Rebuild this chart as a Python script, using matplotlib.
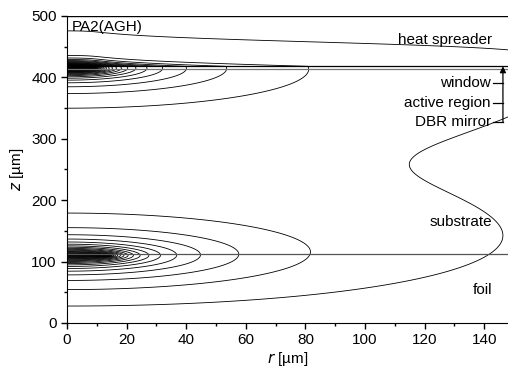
import numpy as np
import matplotlib
matplotlib.use("Agg")
import matplotlib.pyplot as plt

plt.rcParams["font.family"] = ["Liberation Sans", "DejaVu Sans"]
plt.rcParams["font.size"] = 11

# layer boundaries [um]
z_foil_top = 112.0
z_dbr_top = 413.0
z_window_top = 418.0
z_top = 500.0
r_max = 148.0

# heat sources (active region and foil contact) - position, radius, strength
src_z = [415.0, 110.0]
src_a = [9.0, 14.0]
src_s = [1.3, 1.3]
src_q = [1.25, 1.0]
sink_z = -18.0          # effective heat sink plane below the foil
spreader_len = 6.0      # decay length of the source field in the spreader
n_levels = 46

# text labels: (text, r, z)
layer_labels = [
    ("heat spreader", 142.6, 461),
    ("substrate", 142.6, 164),
    ("foil", 142.6, 54),
]
stack_labels = [
    ("window", 391),
    ("active region", 358),
    ("DBR mirror", 327),
]


def disk(r, dz, a):
    rho1 = np.sqrt((r - a) ** 2 + dz ** 2)
    rho2 = np.sqrt((r + a) ** 2 + dz ** 2)
    return 2 / np.pi * np.arcsin(np.clip(2 * a / (rho1 + rho2), 0, 1))


def field(r, z):
    t = np.zeros_like(r)
    for zs, a, s, q in zip(src_z, src_a, src_s, src_q):
        t += q * (disk(r, s * (z - zs), a) - disk(r, s * (z + zs - 2 * sink_z), a))
    return t


r = np.linspace(0, r_max, 600)
z = np.linspace(0, z_top, 2000)
R, Z = np.meshgrid(r, z)
T = field(R, np.minimum(Z, z_window_top))
t_int = field(r, np.full_like(r, z_window_top))
t0 = t_int[-1] * 0.9
above = Z > z_window_top
T[above] = (t0 + (T - t0) * np.exp(-(Z - z_window_top) / spreader_len))[above]

fig = plt.figure(figsize=(5.08, 3.8), dpi=100)
ax = fig.add_axes([0.132, 0.15, 0.868, 0.808])

dT = T[0, 0] * 0 + (field(np.array([143.0]), np.array([170.0]))[0])
levels = dT * np.arange(1, n_levels + 1)
ax.contour(R, Z, T, levels=levels, colors="black", linewidths=0.6)

ax.axhline(z_foil_top, color="#555555", lw=0.9)
ax.axhline(z_dbr_top, color="#777777", lw=0.9)
ax.axhline(z_window_top, color="black", lw=0.9)
ax.axhline(z_top, color="black", lw=1.0)

ax.set_xlim(0, r_max)
ax.set_ylim(0, z_top)
ax.set_xticks(np.arange(0, 141, 20))
ax.set_xticks(np.arange(0, 148, 10), minor=True)
ax.set_yticks(np.arange(0, 501, 100))
ax.set_yticks(np.arange(0, 501, 50), minor=True)
ax.tick_params(direction="out", length=4, width=1, labelsize=11)
ax.tick_params(which="minor", direction="out", length=2.5, width=1)
for side in ["top", "right"]:
    ax.spines[side].set_visible(False)
ax.set_xlabel(r"$r$ [µm]", fontsize=11, labelpad=2)
ax.set_ylabel(r"$z$ [µm]", fontsize=11, labelpad=4)

ax.text(1.5, 482, "PA2(AGH)", ha="left", va="center")
for txt, x, y in layer_labels:
    ax.text(x, y, txt, ha="right", va="center")
for txt, y in stack_labels:
    ax.text(142.2, y, txt, ha="right", va="center")
    ax.plot([142.8, 146.3], [y, y], color="black", lw=0.9)
ax.annotate("", xy=(146.3, 418), xytext=(146.3, 327),
            arrowprops=dict(arrowstyle="-|>", color="black", lw=0.9,
                            mutation_scale=9, shrinkA=0, shrinkB=0))

fig.savefig("out.png", dpi=100)
